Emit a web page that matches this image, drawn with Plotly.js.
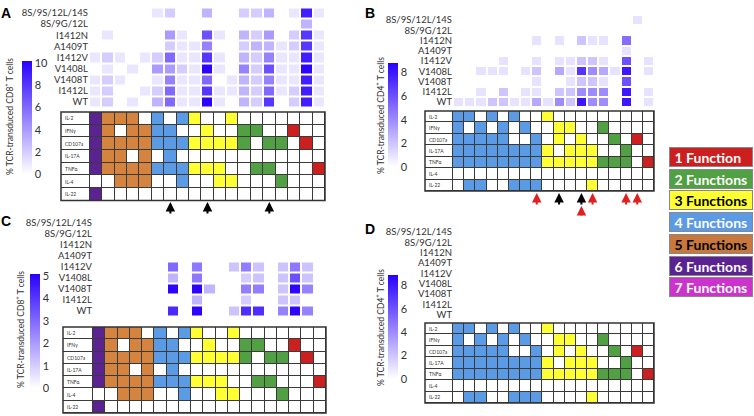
<!DOCTYPE html>
<html><head><meta charset="utf-8">
<script src="https://cdn.plot.ly/plotly-3.0.1.min.js"></script>
<style>html,body{margin:0;padding:0;background:#fff}#chart{width:754px;height:416px}</style>
</head><body><div id="chart"></div>
<script>
// ---------------- DATA ----------------
const variants = ['8S/9S/12L/14S','8S/9G/12L','I1412N','A1409T','I1412V','V1408L','V1408T','I1412L','WT'];
const functions = ['IL-2','IFNγ','CD107a','IL-17A','TNFα','IL-4','IL-22'];

// heatmap columns (each column lists the 9 variants, top to bottom)
const heatA = [
[0,0,0,0,1,0,1,1,1],[0,0,1,0,2,1,2,2,2],[0,0,0,0,1,0,1,0,0],[0,0,0,0,0,1,0,0,1],
[0,0,0,0,1,0,0,1,0],[1,0,0,0,2,4,1,2,3],[2,0,4,2,6,4,5,6,6],[0,0,1,1,1,2,1,1,1],
[0,0,0,1,1,1,1,1,1],[3,0,7,5,8,10,6,8,10],[0,0,1,0,1,1,0,1,1],[0,0,0,0,0,0,1,1,0],
[2,0,3,2,3,5,3,3,3],[2,0,2,3,2,2,2,2,2],[3,0,4,3,5,7,5,6,8],[0,0,0,1,1,1,1,1,0],
[1,0,2,2,1,1,1,2,2],[9,3,8,8,9,10,9,9,9],[1,0,1,1,1,1,1,1,1]];
const heatB = [
[0,0,0,0,0,0,0,0,1],[0,0,0,0,0,0,0,0,1],[0,0,0,0,0,1,0,1,1],[0,0,0,0,0,1,0,0,2],
[0,0,0,0,1,1,0,2,2],[0,0,0,0,0,0,0,0,1],[0,0,0,0,0,1,0,1,1],[0,0,1,0,1,2,1,1,3],
[0,0,0,0,0,0,0,0,1],[0,0,1,0,1,3,0,2,4],[0,0,0,0,1,1,1,2,2],[0,0,2,0,2,7,2,4,8],
[0,0,1,0,2,4,2,4,4],[0,0,1,0,1,3,1,4,4],[0,0,0,0,0,1,0,0,0],[0,0,5,1,6,8,6,8,8],
[1,0,0,0,0,0,0,0,0],[0,0,0,0,1,1,0,1,1]];
const heatC = [
[0,0,0,0,0,0,0,0,0],[0,0,0,0,0,0,0,0,0],[0,0,0,0,0,0,0,0,0],[0,0,0,0,0,0,0,0,0],
[0,0,0,0,0,0,0,0,0],[0,0,0,0,0,0,0,0,0],[0,0,0,0,3,1.5,5,0,4.3],[0,0,0,0,0,0,0,0,0],
[0,0,0,0,2.7,2.7,5,1.5,5],[0,0,0,0,0,0,1.5,0,0],[0,0,0,0,0,0,0,0,0],[0,0,0,0,1.2,0,0,0,1.2],
[0,0,0,0,2.6,1,2.6,1,4.2],[0,0,0,0,1.2,1.2,2.6,0,4.2],[0,0,0,0,0,0,0,0,0],
[0,0,0,0,1.2,1.2,1.2,1.2,2.5],[0,0,0,0,2.7,3.5,5,1.2,5],[0,0,0,0,1.2,1.2,2.5,0,2.5],
[0,0,0,0,0,0,0,0,0]];
const heatD = null;   // panel D shows no heatmap values

// Boolean grids (rows = functions, columns = combinations)
const gridA = [
[1,1,1,1,0,1,0,1,1,0,0,1,0,0,0,0,0,0,0],
[1,1,0,1,1,1,1,0,0,1,0,0,1,1,0,0,1,0,0],
[1,1,1,1,1,1,1,1,1,1,1,1,1,0,1,1,0,1,0],
[1,1,1,0,1,0,1,0,0,0,0,0,0,0,0,0,0,0,0],
[1,1,1,1,1,1,1,1,1,1,1,0,0,1,1,0,0,0,1],
[0,0,1,1,1,0,0,1,0,0,1,1,0,0,0,1,0,0,0],
[1,0,0,0,0,0,0,0,0,0,0,0,0,0,0,0,0,0,0]];
const catA = [6,5,5,5,5,4,4,4,3,3,3,3,2,2,2,2,1,1,1];
const gridB = [
[1,1,0,1,0,1,0,0,1,0,0,0,0,0,0,0,0,0],
[1,0,1,0,1,0,1,0,0,1,1,0,0,1,0,0,0,0],
[1,1,1,1,1,0,0,1,0,1,0,1,0,0,1,0,1,0],
[1,1,1,1,1,1,1,1,1,0,1,1,1,0,0,1,0,0],
[1,1,1,1,1,1,1,1,1,1,1,1,1,1,1,1,0,1],
[0,0,0,0,0,0,0,0,0,0,0,0,0,0,0,0,0,0],
[0,1,1,0,0,1,1,1,0,0,0,0,1,0,0,0,0,0]];
const catB = [4,4,4,4,4,4,4,4,3,3,3,3,3,2,2,2,1,1];

const arrowColsA = [6,9,14];
const arrowColsB = [7,9,11,12,15,16,11];
const arrowColorB = ['red','black','black','red','red','red','red'];
const arrowLevelB = [0,0,0,0,0,0,1];

const legendLabels = ['1 Function','2 Functions','3 Functions','4 Functions','5 Functions','6 Functions','7 Functions'];
const funcColors = ['#ffffff','#cc2020','#52a044','#ffff33','#5b9be6','#d4843e','#5b2391','#cc33cc'];
const legendBoxColors = ['#cc2020','#52a044','#ffff33','#5b9be6','#c8783c','#5b2391','#cc33cc'];
const legendTextColors = ['#fff','#fff','#000','#fff','#000','#fff','#fff'];

// ---------------- LAYOUT HELPERS ----------------
const W=754,H=416;
const fx=p=>p/W, fy=p=>1-p/H;
const FONT='Lato, "Open Sans", sans-serif';
const heatScale=[[0,'rgb(255,255,255)'],[1,'rgb(40,0,255)']];
const gridScale=[];
funcColors.forEach((c,k)=>{gridScale.push([k/8,c]);gridScale.push([(k+1)/8,c]);});

const panels=[
 {heat:heatA,grid:gridA,cat:catA,n:19,hx:[89,325],hy:[7.5,107.5],gx:[61,325],gy:[112,200.5],labelPx:29,
  cb:{x:22,top:61,bot:174,zmax:10.2,ticks:[0,2,4,6,8,10]},title:{x:9,y:117,t:'CD8'},letter:{t:'A',x:6,y:13}},
 {heat:heatB,grid:gridB,cat:catB,n:18,hx:[453,654],hy:[15,107],gx:[425,654],gy:[111,191],labelPx:28,
  cb:{x:388,top:63,bot:167,zmax:8.8,ticks:[0,2,4,6,8]},title:{x:380,y:116,t:'CD4'},letter:{t:'B',x:370,y:13}},
 {heat:heatC,grid:gridA,cat:catA,n:19,hx:[93,326],hy:[217.5,316.5],gx:[63,326],gy:[327,413],labelPx:30,
  cb:{x:30,top:274,bot:388,zmax:5.1,ticks:[0,1,2,3,4,5]},title:{x:20,y:330,t:'CD8'},letter:{t:'C',x:6,y:221}},
 {heat:heatD,grid:gridB,cat:catB,n:18,hx:[453,654],hy:[227,320],gx:[425,654],gy:[323,403],labelPx:28,
  cb:{x:388,top:275,bot:379,zmax:8.9,ticks:[0,2,4,6,8]},title:{x:380,y:328,t:'CD4'},letter:{t:'D',x:370,y:229}}
];

const data=[], layout={width:W,height:H,margin:{l:0,r:0,t:0,b:0},paper_bgcolor:'#fff',plot_bgcolor:'rgba(0,0,0,0)',
  showlegend:false,font:{family:FONT,color:'#333'},shapes:[],annotations:[]};

panels.forEach((p,i)=>{
  const hi=2*i+1, gi=2*i+2;
  const hxK='xaxis'+(hi===1?'':hi), hyK='yaxis'+(hi===1?'':hi);
  const hx='x'+(hi===1?'':hi), hy='y'+(hi===1?'':hi), gxN='x'+gi, gyN='y'+gi;
  const xs=[...Array(p.n).keys()];
  const z=variants.map((v,r)=>xs.map(c=>{
    if(!p.heat) return 0;
    const val=p.heat[c][r]; return val===0?null:val;}));
  const cbLen=p.cb.bot-p.cb.top;
  data.push({type:'heatmap',x:xs,y:variants,z:z,zmin:0,zmax:p.cb.zmax,colorscale:heatScale,
    xgap:2,ygap:2,xaxis:hx,yaxis:hy,hoverinfo:'skip',
    colorbar:{x:fx(p.cb.x),xanchor:'left',y:fy((p.cb.top+p.cb.bot)/2),yanchor:'middle',len:cbLen,lenmode:'pixels',
      thickness:10,thicknessmode:'pixels',outlinewidth:0,xpad:0,ypad:0,tickvals:p.cb.ticks,ticks:'',
      tickfont:{family:FONT,size:11,color:'#333'}}});
  layout[hxK]={domain:[fx(p.hx[0]),fx(p.hx[1])],range:[-0.5,p.n-0.5],visible:false,fixedrange:true,anchor:hy};
  layout[hyK]={domain:[fy(p.hy[1]),fy(p.hy[0])],type:'category',categoryorder:'array',categoryarray:variants,
    range:[variants.length-0.5,-0.5],showgrid:false,zeroline:false,showline:false,ticks:'',fixedrange:true,anchor:hx,
    tickmode:'array',tickvals:variants,ticktext:variants,
    tickfont:{family:FONT,size:9.5,color:'#333'}};
  const colPx=(p.gx[1]-p.gx[0]-p.labelPx)/p.n;
  const labelCols=p.labelPx/colPx;
  const edges=[-0.5-labelCols,...[...Array(p.n+1).keys()].map(k=>k-0.5)];
  const gz=p.grid.map(row=>[0,...row.map((v,c)=>v?p.cat[c]:0)]);
  data.push({type:'heatmap',x:edges,y:functions,z:gz,zmin:-0.5,zmax:7.5,colorscale:gridScale,showscale:false,
    xgap:1,ygap:1,xaxis:gxN,yaxis:gyN,hoverinfo:'skip'});
  layout['xaxis'+gi]={domain:[fx(p.gx[0]),fx(p.gx[1])],range:[edges[0],p.n-0.5],visible:false,fixedrange:true,anchor:gyN};
  layout['yaxis'+gi]={domain:[fy(p.gy[1]),fy(p.gy[0])],type:'category',categoryorder:'array',categoryarray:functions,
    range:[functions.length-0.5,-0.5],visible:false,fixedrange:true,anchor:gxN};
  layout.shapes.push({type:'rect',xref:gxN+' domain',yref:gyN+' domain',x0:0,x1:1,y0:0,y1:1,fillcolor:'#3a3a3a',line:{width:0},layer:'below'});
  layout.shapes.push({type:'rect',xref:gxN+' domain',yref:gyN+' domain',x0:0,x1:1,y0:0,y1:1,fillcolor:'rgba(0,0,0,0)',line:{width:1.5,color:'#333'},layer:'above'});
  functions.forEach(f=>layout.annotations.push({xref:gxN,yref:gyN,x:edges[0]+0.2,y:f,text:f,showarrow:false,xanchor:'left',yanchor:'middle',
    font:{family:FONT,size:5,color:'#333'}}));
  layout.annotations.push({xref:'paper',yref:'paper',x:fx(p.title.x),y:fy(p.title.y),xanchor:'center',yanchor:'middle',textangle:-90,showarrow:false,
    text:'% TCR-transduced '+p.title.t+'<sup>+</sup> T cells',font:{family:FONT,size:8.5,color:'#333'}});
  layout.annotations.push({xref:'paper',yref:'paper',x:fx(p.letter.x),y:fy(p.letter.y),xanchor:'center',yanchor:'middle',showarrow:false,
    text:'<b>'+p.letter.t+'</b>',font:{family:'Liberation Sans, Arial, sans-serif',size:14,color:'#000'}});
});

// arrows
arrowColsA.forEach(c=>layout.annotations.push({xref:'x2',yref:'paper',x:c,y:fy(202),ax:0,ay:13,text:'',showarrow:true,
  arrowhead:2,arrowsize:0.95,arrowwidth:2,arrowcolor:'#000'}));
arrowColsB.forEach((c,k)=>layout.annotations.push({xref:'x4',yref:'paper',x:c,y:fy(arrowLevelB[k]?206:193),ax:0,ay:arrowLevelB[k]?11:13,text:'',showarrow:true,
  arrowhead:2,arrowsize:0.95,arrowwidth:2,arrowcolor:arrowColorB[k]==='red'?'#e02020':'#000'}));

// legend boxes
legendLabels.forEach((t,k)=>layout.annotations.push({xref:'paper',yref:'paper',x:fx(669),y:fy(147+k*21.7),xanchor:'left',yanchor:'top',
  text:'&nbsp;<b>'+t+'</b>',showarrow:false,align:'left',width:80,height:16,borderpad:1,borderwidth:1,bordercolor:'#888',
  bgcolor:legendBoxColors[k],font:{family:FONT,size:14,color:legendTextColors[k]}}));

Plotly.newPlot('chart',data,layout,{staticPlot:true,displayModeBar:false});
</script></body></html>
